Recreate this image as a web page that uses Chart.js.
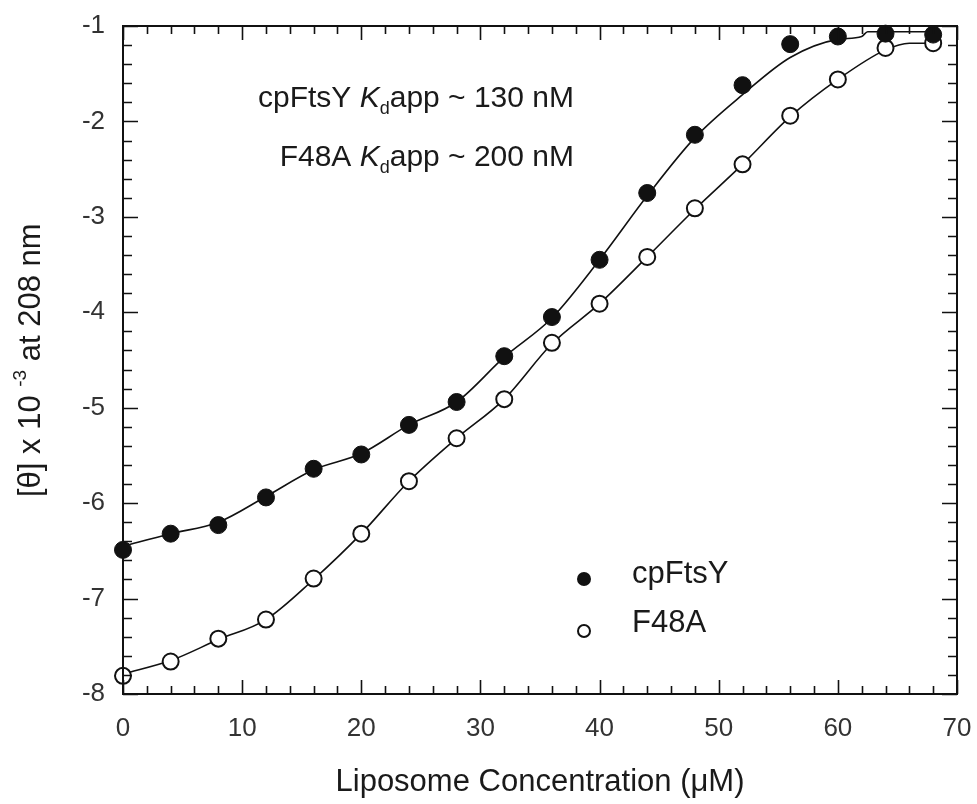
<!DOCTYPE html>
<html>
<head>
<meta charset="utf-8">
<script src="https://cdn.jsdelivr.net/npm/chart.js@4"></script>
<style>
  html, body { margin: 0; padding: 0; background: #fff; }
  #wrap { width: 977px; height: 804px; }
</style>
</head>
<body>
<div id="wrap"><canvas id="cdChart" width="977" height="804"></canvas></div>
<script>
// liposome concentration (uM)
const conc = [0, 4, 8, 12, 16, 20, 24, 28, 32, 36, 40, 44, 48, 52, 56, 60, 64, 68];
// [theta] x 10^-3 at 208 nm
const cpFtsY = [-6.49, -6.32, -6.23, -5.94, -5.64, -5.49, -5.18, -4.94, -4.46, -4.05, -3.45, -2.75, -2.14, -1.62, -1.19, -1.11, -1.08, -1.09];
const f48a = [-7.81, -7.66, -7.42, -7.22, -6.79, -6.32, -5.77, -5.32, -4.91, -4.32, -3.91, -3.42, -2.91, -2.45, -1.94, -1.56, -1.23, -1.18];

// fitted binding curves
const fitCpX = [0, 4, 8, 12, 16, 20, 24, 28, 32, 36, 40, 44, 48, 52, 56, 60, 62, 62.5, 68];
const fitCpY = [-6.45, -6.32, -6.2, -5.93, -5.65, -5.48, -5.18, -4.94, -4.47, -4.06, -3.45, -2.78, -2.17, -1.72, -1.33, -1.14, -1.11, -1.06, -1.06];
const fitF48X = [0, 4, 8, 12, 16, 20, 24, 28, 32, 36, 40, 44, 48, 52, 56, 60, 64, 66, 68];
const fitF48Y = [-7.79, -7.65, -7.43, -7.22, -6.8, -6.32, -5.77, -5.32, -4.91, -4.33, -3.91, -3.42, -2.92, -2.45, -1.95, -1.56, -1.25, -1.18, -1.18];

const xTicks = [0, 10, 20, 30, 40, 50, 60, 70];
const yTicks = [-8, -7, -6, -5, -4, -3, -2, -1];

const FONT = '"Liberation Sans", Arial, sans-serif';
const pts = (xs, ys) => xs.map((x, i) => ({ x: x, y: ys[i] }));

// frame with inward ticks on all four sides
const framePlugin = {
  id: 'frame',
  afterDraw(chart) {
    const { ctx, chartArea: a, scales: { x, y } } = chart;
    ctx.save();
    ctx.strokeStyle = '#111';
    ctx.lineWidth = 2;
    ctx.strokeRect(a.left, a.top, a.right - a.left, a.bottom - a.top);
    ctx.lineWidth = 1.6;
    ctx.beginPath();
    for (let v = 0; v <= 70; v += 2) {
      const px = Math.round(x.getPixelForValue(v)) + 0.5;
      const len = v % 10 === 0 ? 14 : 8;
      ctx.moveTo(px, a.bottom); ctx.lineTo(px, a.bottom - len);
      ctx.moveTo(px, a.top); ctx.lineTo(px, a.top + len);
    }
    for (let i = 0; i <= 35; i++) {
      const v = -8 + i * 0.2;
      const py = Math.round(y.getPixelForValue(v)) + 0.5;
      const len = i % 5 === 0 ? 15 : 9;
      ctx.moveTo(a.left, py); ctx.lineTo(a.left + len, py);
      ctx.moveTo(a.right, py); ctx.lineTo(a.right - len, py);
    }
    ctx.stroke();
    ctx.restore();
  }
};

// y title with superscript, Kd annotations and the legend
const textPlugin = {
  id: 'texts',
  afterDraw(chart) {
    const ctx = chart.ctx;
    ctx.save();
    ctx.fillStyle = '#1a1a1a';
    ctx.textBaseline = 'alphabetic';

    // y axis title
    ctx.save();
    ctx.translate(40, 497);
    ctx.rotate(-Math.PI / 2);
    ctx.textAlign = 'left';
    let cx = 0;
    ctx.font = '31px ' + FONT;
    ctx.fillText('[\u03b8] x 10 ', cx, 0);
    cx += ctx.measureText('[\u03b8] x 10 ').width;
    ctx.font = '19px ' + FONT;
    ctx.fillText('-3', cx, -14);
    cx += ctx.measureText('-3').width;
    ctx.font = '31px ' + FONT;
    ctx.fillText(' at 208 nm', cx, 0);
    ctx.restore();

    // Kd annotations, right aligned
    function kdLine(prefix, suffix, right, base) {
      const parts = [
        { t: prefix + ' ', f: '30px ' + FONT, dy: 0 },
        { t: 'K', f: 'italic 30px ' + FONT, dy: 0 },
        { t: 'd', f: '18px ' + FONT, dy: 7 },
        { t: 'app ~ ' + suffix, f: '30px ' + FONT, dy: 0 }
      ];
      let w = 0;
      parts.forEach(p => { ctx.font = p.f; p.w = ctx.measureText(p.t).width; w += p.w; });
      let px = right - w;
      ctx.textAlign = 'left';
      parts.forEach(p => { ctx.font = p.f; ctx.fillText(p.t, px, base + p.dy); px += p.w; });
    }
    kdLine('cpFtsY', '130 nM', 574, 107);
    kdLine('F48A', '200 nM', 574, 166);

    // legend
    ctx.lineWidth = 2;
    ctx.strokeStyle = '#111';
    ctx.beginPath(); ctx.arc(584, 579, 7, 0, Math.PI * 2);
    ctx.fillStyle = '#111'; ctx.fill();
    ctx.beginPath(); ctx.arc(584, 631, 6, 0, Math.PI * 2);
    ctx.fillStyle = '#fff'; ctx.fill(); ctx.stroke();
    ctx.fillStyle = '#1a1a1a';
    ctx.font = '31px ' + FONT;
    ctx.textAlign = 'left';
    ctx.fillText('cpFtsY', 632, 583);
    ctx.fillText('F48A', 632, 632);
    ctx.restore();
  }
};

const chart = new Chart(document.getElementById('cdChart'), {
  type: 'scatter',
  data: {
    datasets: [
      { label: 'cpFtsY', data: pts(conc, cpFtsY), pointRadius: 8.5, pointBackgroundColor: '#111',
        pointBorderColor: '#111', pointBorderWidth: 1, showLine: false, order: 0, clip: false },
      { label: 'F48A', data: pts(conc, f48a), pointRadius: 8, pointBackgroundColor: '#fff',
        pointBorderColor: '#111', pointBorderWidth: 2, showLine: false, order: 0, clip: false },
      { label: 'cpFtsY fit', data: pts(fitCpX, fitCpY), showLine: true, pointRadius: 0,
        borderColor: '#111', borderWidth: 1.6, cubicInterpolationMode: 'monotone', order: 1, clip: false },
      { label: 'F48A fit', data: pts(fitF48X, fitF48Y), showLine: true, pointRadius: 0,
        borderColor: '#111', borderWidth: 1.6, cubicInterpolationMode: 'monotone', order: 1, clip: false }
    ]
  },
  options: {
    responsive: false,
    animation: false,
    layout: { padding: { left: 0, top: 26, right: 20, bottom: 0 } },
    plugins: { legend: { display: false }, tooltip: { enabled: false } },
    scales: {
      x: {
        type: 'linear', min: 0, max: 70,
        afterBuildTicks: s => { s.ticks = xTicks.map(v => ({ value: v })); },
        afterFit: s => { s.height = 110; s.paddingLeft = 0; s.paddingRight = 0; },
        grid: { display: false, drawTicks: false },
        border: { display: false },
        ticks: { padding: 19, color: '#333', font: { family: FONT, size: 26 }, maxRotation: 0 },
        title: { display: true, text: 'Liposome Concentration (\u03bcM)', color: '#1a1a1a',
          font: { family: FONT, size: 31 }, padding: { top: 0, bottom: 3 } }
      },
      y: {
        type: 'linear', min: -8, max: -1,
        afterBuildTicks: s => { s.ticks = yTicks.map(v => ({ value: v })); },
        afterFit: s => { s.width = 123; s.paddingTop = 0; s.paddingBottom = 0; },
        grid: { display: false, drawTicks: false },
        border: { display: false },
        ticks: { padding: 18, color: '#333', font: { family: FONT, size: 26 } }
      }
    }
  },
  plugins: [framePlugin, textPlugin]
});
</script>
</body>
</html>
